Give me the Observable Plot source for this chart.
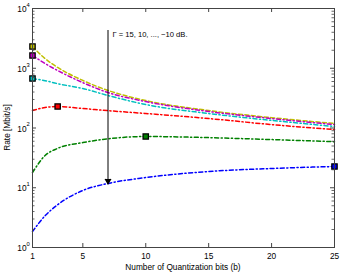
<!DOCTYPE html>
<html><head><meta charset="utf-8">
<script src="https://cdn.jsdelivr.net/npm/d3@7"></script>
<script src="https://cdn.jsdelivr.net/npm/@observablehq/plot@0.6"></script>
<style>body{margin:0;background:#fff}</style>
</head><body><div id="chart"></div>
<script>
const bits = [1, 2, 3, 5, 7, 10, 15, 20, 25];
const snrLabels = ["15 dB", "10 dB", "5 dB", "0 dB", "-5 dB", "-10 dB"];
const colors = ["#bfbf00", "#bf00bf", "#00bfbf", "#ff0000", "#008000", "#0000ff"];
const dashes = ["4,2.5", "4,2.5,1.2,2.5", "4,2.5,1.2,2.5", "4,2.5,1.2,2.5", "4,2.5,1.2,2.5", "4,2.5,1.2,2.5"];
const rate15 = [2310, 1450, 1030, 625, 425, 288, 196, 149, 119];
const rate10 = [1634, 1200, 915, 575, 392, 277, 189, 144, 114];
const rate5 = [673, 620, 552, 458, 350, 247, 175, 134, 106];
const rate0 = [196, 220, 229, 212, 195, 175, 144, 114, 94];
const rateM5 = [18, 34.6, 45.6, 57, 66, 72, 69, 64, 59];
const rateM10 = [1.85, 3.4, 5.2, 9.0, 11.8, 14.8, 18.7, 21, 22.7];
const optBits = [1, 1, 1, 3, 10, 25];
const xTicks = [1, 5, 10, 15, 20, 25];
const yExps = [0, 1, 2, 3, 4];
const arrowX = [7];
const arrowFrom = [4300];
const arrowTo = [11.8];
const annotation = "\u0393 = 15, 10, ..., \u221210 dB.";
const annX = 7.35, annY = 3600;

const series = [rate15, rate10, rate5, rate0, rateM5, rateM10];
const lines = series.map((s, i) => bits.map((b, j) => ({b, r: s[j], k: i})));
const opt = series.map((s, i) => ({b: optBits[i], r: s[bits.indexOf(optBits[i])], k: i}));
const majorY = yExps.map(e => Math.pow(10, e));
const minorY = [];
for (const e of [0, 1, 2, 3]) for (let m = 2; m <= 9; m++) minorY.push(m * Math.pow(10, e));

const W = 345, H = 273, mL = 32, mR = 11, mT = 8, mB = 26;
const pw = W - mL - mR, ph = H - mT - mB;
const axc = "#444";
const font = "Liberation Sans, Arial, Helvetica, sans-serif";

const marks = [];
lines.forEach((L, i) => marks.push(Plot.line(L, {x: "b", y: "r", stroke: colors[i], strokeWidth: 1.5, strokeDasharray: dashes[i], curve: "monotone-x"})));
marks.push(Plot.arrow(arrowX.map((x, i) => ({x, a: arrowFrom[i], b: arrowTo[i]})), {x1: "x", x2: "x", y1: "a", y2: "b", stroke: "#000", strokeWidth: 1, headLength: 7, headAngle: 50}));
marks.push(Plot.dot(arrowX.map((x, i) => ({x, y: arrowTo[i]})), {x: "x", y: "y", symbol: "triangle", rotate: 180, r: 2.6, fill: "#000", dy: -2.5}));
marks.push(Plot.dot(opt, {x: "b", y: "r", symbol: "square", r: 3, fill: d => colors[d.k], stroke: "#000", strokeWidth: 1.3}));
marks.push(Plot.text([annotation], {x: () => annX, y: () => annY, text: d => d, textAnchor: "start", fontSize: 7.6, fill: "#000"}));
// frame and ticks
marks.push(Plot.frame({stroke: axc, strokeWidth: 1}));
marks.push(Plot.tickX(xTicks, {x: d => d, stroke: axc, insetTop: ph - 4}));
marks.push(Plot.tickX(xTicks, {x: d => d, stroke: axc, insetBottom: ph - 4}));
marks.push(Plot.tickY(majorY, {y: d => d, stroke: axc, insetRight: pw - 4}));
marks.push(Plot.tickY(majorY, {y: d => d, stroke: axc, insetLeft: pw - 4}));
marks.push(Plot.tickY(minorY, {y: d => d, stroke: axc, insetRight: pw - 2.5, strokeWidth: 0.8}));
marks.push(Plot.tickY(minorY, {y: d => d, stroke: axc, insetLeft: pw - 2.5, strokeWidth: 0.8}));
// tick labels
marks.push(Plot.text(xTicks, {x: d => d, y: () => 1, text: d => String(d), dy: 8.5, fontSize: 8.3, fill: "#000"}));
marks.push(Plot.text(yExps, {x: () => 1, y: d => Math.pow(10, d), text: () => "10", textAnchor: "end", dx: -6, dy: 1, fontSize: 8.3, fill: "#000"}));
marks.push(Plot.text(yExps, {x: () => 1, y: d => Math.pow(10, d), text: d => String(d), textAnchor: "start", dx: -6, dy: -3.5, fontSize: 5.8, fill: "#000"}));

const chart = Plot.plot({
  width: W, height: H,
  marginLeft: mL, marginRight: mR, marginTop: mT, marginBottom: mB,
  style: {fontFamily: font, background: "#fff", overflow: "visible"},
  x: {domain: [1, 25], axis: null},
  y: {type: "log", domain: [1, 10000], axis: null},
  marks
});
const svg = d3.select(chart);
svg.append("text").attr("x", mL + pw / 2).attr("y", H - 3).attr("text-anchor", "middle")
  .attr("font-size", 8.3).attr("font-family", font).attr("fill", "#000").text("Number of Quantization bits (b)");
svg.append("text").attr("transform", `translate(9.5,${mT + ph / 2}) rotate(-90)`).attr("text-anchor", "middle")
  .attr("font-size", 8.3).attr("font-family", font).attr("fill", "#000").text("Rate [Mbit/s]");
document.getElementById("chart").appendChild(chart);
</script></body></html>
